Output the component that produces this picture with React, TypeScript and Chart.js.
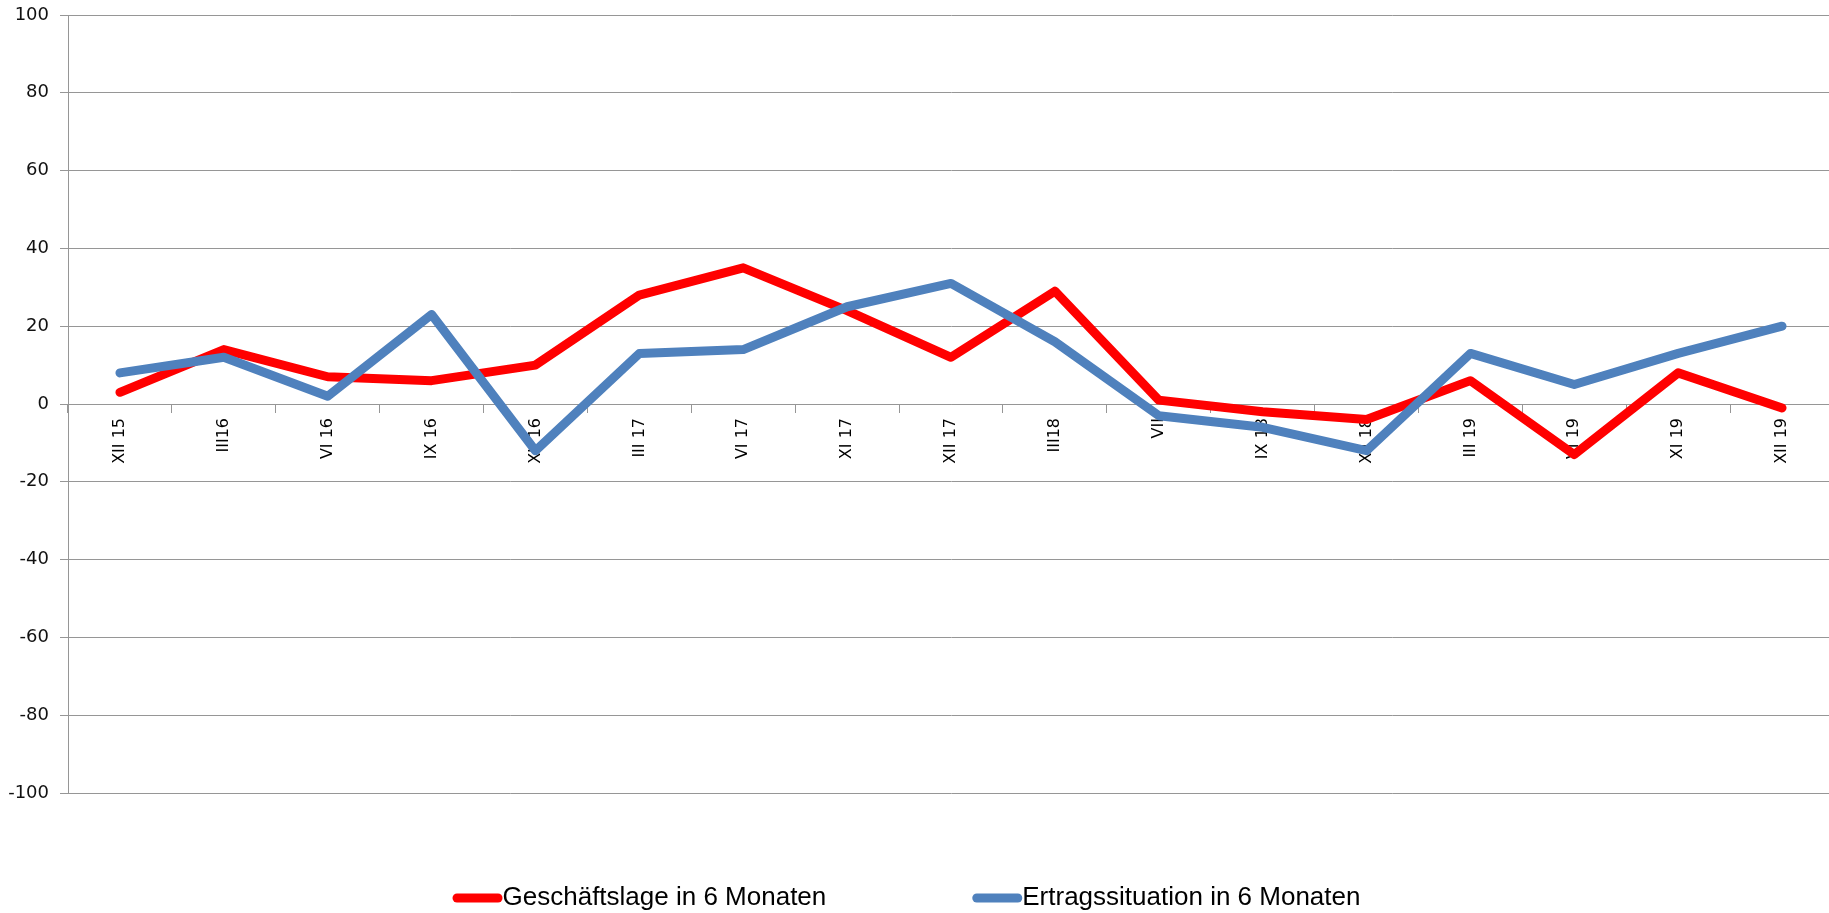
import React, { useEffect, useRef } from "react";
import { Chart, registerables } from "chart.js";

Chart.register(...registerables);

const categories = [
  "XII 15", "III16", "VI 16", "IX 16", "XII 16", "III 17", "VI 17", "XI 17", "XII 17",
  "III18", "VII", "IX 18", "XII 18", "III 19", "VI 19", "XI 19", "XII 19",
];

const geschaeftslage = [3, 14, 7, 6, 10, 28, 35, 24, 12, 29, 1, -2, -4, 6, -13, 8, -1];
const ertragssituation = [8, 12, 2, 23, -12, 13, 14, 25, 31, 16, -3, -6, -12, 13, 5, 13, 20];

const seriesLabels = ["Geschäftslage in 6 Monaten", "Ertragssituation in 6 Monaten"];
const seriesColors = ["#FF0000", "#4F81BD"];

const yMin = -100;
const yMax = 100;
const yStep = 20;

const gridColor = "#969696";

const legendPlugin = {
  id: "bottomLegend",
  afterDraw(chart: any) {
    const ctx = chart.ctx;
    const ds = chart.data.datasets;
    ctx.save();
    ctx.font = '26px "Liberation Sans Narrow", "Arial Narrow", sans-serif';
    const barW = 50;
    const barH = 9;
    const gap = 146;
    const widths = ds.map((d: any) => ctx.measureText(d.label).width);
    const total = widths.reduce((a: number, w: number) => a + barW + w, 0) + gap * (ds.length - 1);
    let x = chart.width / 2 - 10.5 - total / 2;
    const y = chart.height - 15;
    ds.forEach((d: any, i: number) => {
      ctx.fillStyle = d.borderColor;
      ctx.beginPath();
      ctx.roundRect(x, y - barH / 2, barW, barH, barH / 2);
      ctx.fill();
      x += barW;
      ctx.fillStyle = "#000";
      ctx.textBaseline = "middle";
      ctx.textAlign = "left";
      ctx.fillText(d.label, x, y);
      x += widths[i] + gap;
    });
    ctx.restore();
  },
};

const zeroPadding = (scale: any) => {
  scale.paddingTop = 0;
  scale.paddingBottom = 0;
  scale.paddingLeft = 0;
  scale.paddingRight = 0;
};

export default function App() {
  const ref = useRef<HTMLCanvasElement | null>(null);

  useEffect(() => {
    if (!ref.current) return;
    const chart = new Chart(ref.current, {
      type: "line",
      data: {
        labels: categories,
        datasets: [
          {
            label: seriesLabels[0],
            data: geschaeftslage,
            borderColor: seriesColors[0],
            backgroundColor: seriesColors[0],
            borderWidth: 9,
            pointRadius: 0,
            borderCapStyle: "round",
            borderJoinStyle: "round",
            tension: 0,
            order: 1,
          },
          {
            label: seriesLabels[1],
            data: ertragssituation,
            borderColor: seriesColors[1],
            backgroundColor: seriesColors[1],
            borderWidth: 9,
            pointRadius: 0,
            borderCapStyle: "round",
            borderJoinStyle: "round",
            tension: 0,
            order: 0,
          },
        ],
      },
      options: {
        responsive: false,
        animation: false,
        devicePixelRatio: 1,
        layout: { padding: { top: 15, bottom: 120, left: 0, right: 0 } },
        plugins: {
          legend: { display: false },
          tooltip: { enabled: false },
        },
        scales: {
          x: {
            type: "category",
            position: { y: 0 },
            offset: true,
            afterFit: zeroPadding,
            grid: {
              drawOnChartArea: false,
              drawTicks: true,
              tickLength: 8,
              color: gridColor,
              offset: true,
            },
            border: { display: true, color: gridColor, width: 1 },
            ticks: {
              autoSkip: false,
              minRotation: 90,
              maxRotation: 90,
              padding: 6,
              color: "#000",
              font: { family: '"DejaVu Sans", sans-serif', size: 16 },
            },
          },
          y: {
            min: yMin,
            max: yMax,
            afterFit: (scale: any) => {
              scale.width = 68;
              zeroPadding(scale);
            },
            ticks: {
              stepSize: yStep,
              padding: 11,
              color: "#111",
              font: { family: '"DejaVu Sans", sans-serif', size: 18 },
            },
            grid: { color: gridColor, tickLength: 8, lineWidth: 1 },
            border: { display: true, color: gridColor, width: 1 },
          },
        },
      },
      plugins: [legendPlugin],
    });
    return () => chart.destroy();
  }, []);

  return (
    <div
      style={{
        position: "fixed",
        left: 0,
        top: 0,
        width: 1829,
        height: 913,
        overflow: "hidden",
        background: "#fff",
      }}
    >
      <canvas ref={ref} width={1834} height={913} style={{ display: "block" }} />
    </div>
  );
}
